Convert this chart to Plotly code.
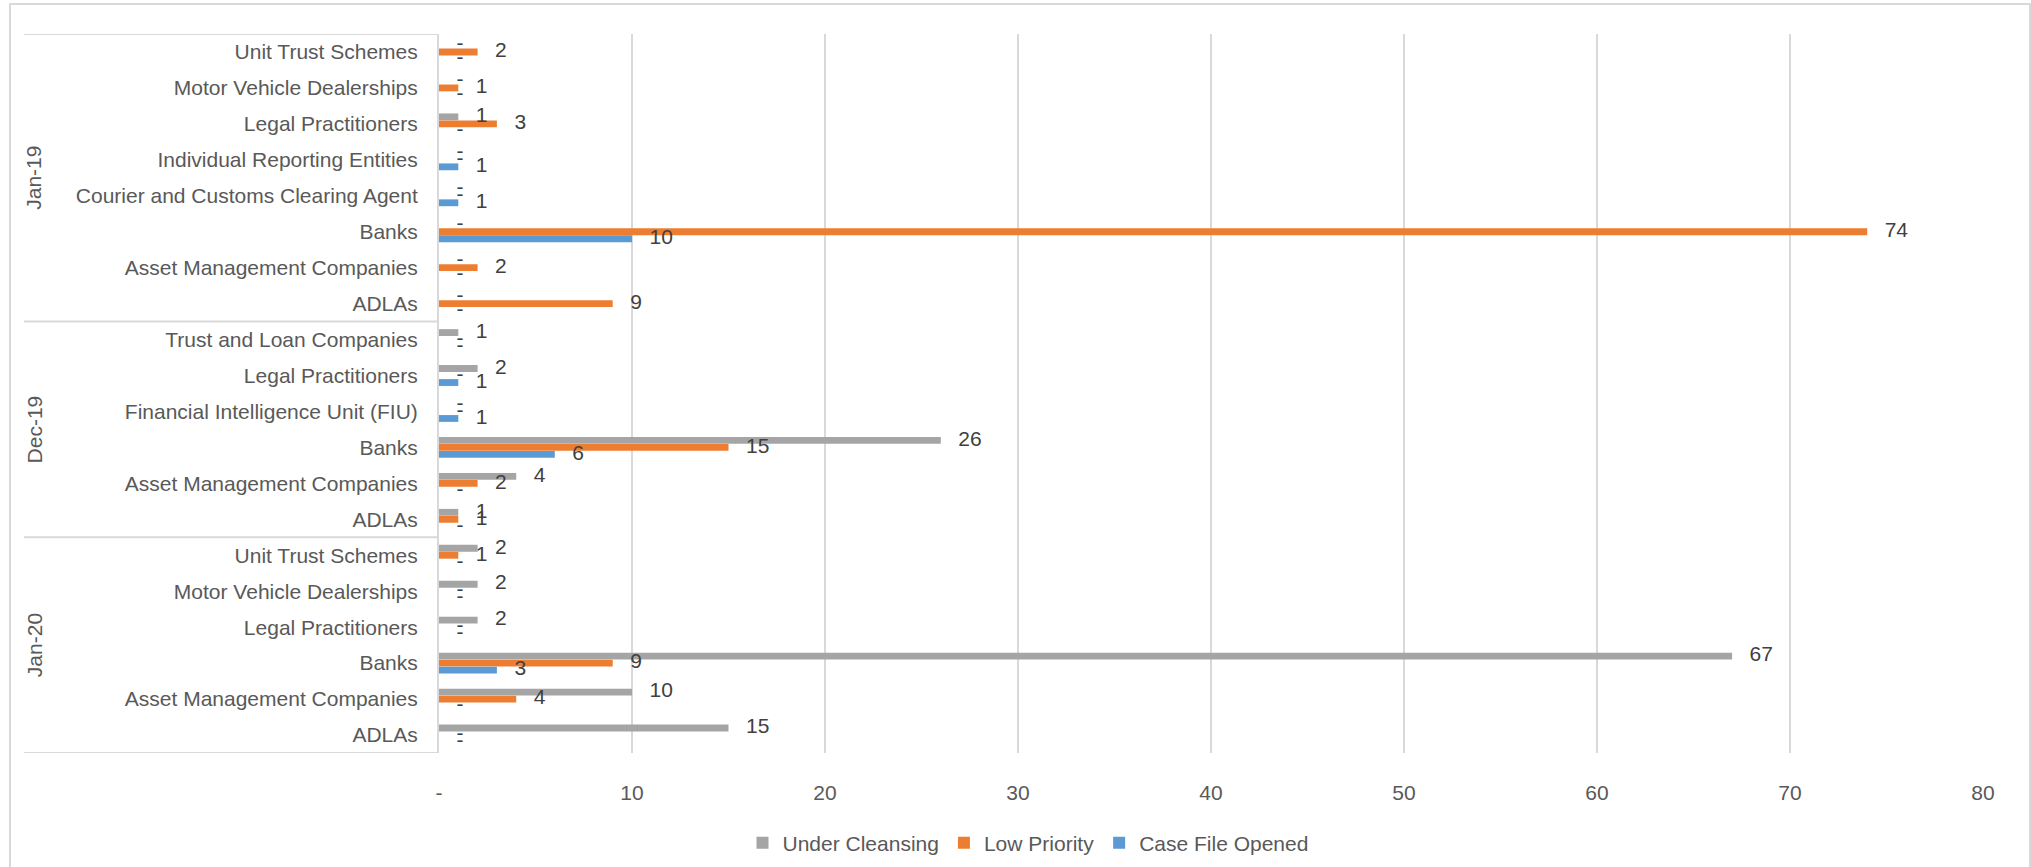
import plotly.graph_objects as go

# ---- data -------------------------------------------------------------
months = ["Jan-19"] * 8 + ["Dec-19"] * 6 + ["Jan-20"] * 6
categories = [
    "Unit Trust Schemes", "Motor Vehicle Dealerships", "Legal Practitioners",
    "Individual Reporting Entities", "Courier and Customs Clearing Agent",
    "Banks", "Asset Management Companies", "ADLAs",
    "Trust and Loan Companies", "Legal Practitioners",
    "Financial Intelligence Unit (FIU)", "Banks",
    "Asset Management Companies", "ADLAs",
    "Unit Trust Schemes", "Motor Vehicle Dealerships", "Legal Practitioners",
    "Banks", "Asset Management Companies", "ADLAs",
]
under_cleansing = [0, 0, 1, 0, 0, 0, 0, 0,
                   1, 2, 0, 26, 4, 1,
                   2, 2, 2, 67, 10, 15]
low_priority = [2, 1, 3, 0, 0, 74, 2, 9,
                0, 0, 0, 15, 2, 1,
                1, 0, 0, 9, 4, 0]
case_file_opened = [0, 0, 0, 1, 1, 10, 0, 0,
                    0, 1, 1, 6, 0, 0,
                    0, 0, 0, 3, 0, 0]

series_names = ["Under Cleansing", "Low Priority", "Case File Opened"]
series_values = [under_cleansing, low_priority, case_file_opened]
series_colors = ["#A5A5A5", "#ED7D31", "#5B9BD5"]

x_tick_values = [0, 10, 20, 30, 40, 50, 60, 70, 80]
x_tick_labels = ["-", "10", "20", "30", "40", "50", "60", "70", "80"]

# ---- layout constants (pixels) ------------------------------------------
W, H = 2031, 867
PLOT_L, PLOT_R, PLOT_T, PLOT_B = 439, 1983, 34, 753
PW, PH = PLOT_R - PLOT_L, PLOT_B - PLOT_T


def px_x(px):
    return (px - PLOT_L) / PW


def px_y(py):
    return (PLOT_B - py) / PH


FONT = "Liberation Sans, Arial, sans-serif"
AXIS_GREY = "#595959"
LABEL_GREY = "#404040"
LINE_GREY = "#D9D9D9"

rows = list(range(len(categories)))
slot = 0.195          # vertical step between the three bars of a row
bar_w = 0.19

fig = go.Figure()

for k, (name, vals, col) in enumerate(zip(series_names, series_values, series_colors)):
    ypos = [r + (k - 1) * slot for r in rows]
    fig.add_trace(go.Bar(
        name=name, x=vals, y=ypos, orientation="h", width=bar_w,
        marker=dict(color=col, line=dict(width=0)),
        hoverinfo="skip",
    ))

# value labels ("-" for zero, accounting style)
for k, (name, vals) in enumerate(zip(series_names, series_values)):
    ypos = [r + (k - 1) * slot for r in rows]
    txt = ["\u00a0\u00a0\u00a0" + ("-" if v == 0 else str(v)) for v in vals]
    fig.add_trace(go.Scatter(
        x=vals, y=ypos, mode="text", text=txt,
        textposition="middle right",
        textfont=dict(family=FONT, size=21, color=LABEL_GREY),
        showlegend=False, hoverinfo="skip", cliponaxis=False,
    ))

shapes = []
# category-axis box: horizontal separators at group boundaries
group_names = []
group_bounds = []
start = 0
for i in range(1, len(months) + 1):
    if i == len(months) or months[i] != months[start]:
        group_names.append(months[start])
        group_bounds.append((start, i - 1))
        start = i

box_left = px_x(24)
edges = [-0.5] + [b[1] + 0.5 for b in group_bounds]
for e in edges:
    shapes.append(dict(type="line", xref="paper", yref="y",
                       x0=box_left, x1=0, y0=e, y1=e,
                       line=dict(color=LINE_GREY, width=2)))

# outer chart border
shapes.append(dict(type="rect", xref="paper", yref="paper",
                   x0=px_x(10), x1=px_x(2030), y0=px_y(900), y1=px_y(4),
                   line=dict(color=LINE_GREY, width=2), layer="below"))

annotations = []
for gname, (a, b) in zip(group_names, group_bounds):
    annotations.append(dict(
        text=gname, xref="paper", yref="y", x=px_x(34), y=(a + b) / 2,
        textangle=-90, showarrow=False, xanchor="center", yanchor="middle",
        font=dict(family=FONT, size=21, color=AXIS_GREY),
    ))

fig.update_layout(
    width=W, height=H,
    margin=dict(l=PLOT_L, r=W - PLOT_R, t=PLOT_T, b=H - PLOT_B, pad=0,
                autoexpand=False),
    paper_bgcolor="white", plot_bgcolor="white",
    barmode="overlay",
    font=dict(family=FONT, size=21, color=AXIS_GREY),
    showlegend=True,
    legend=dict(orientation="h", x=px_x(1028), y=px_y(843),
                xanchor="center", yanchor="middle",
                font=dict(family=FONT, size=21, color=AXIS_GREY),
                itemwidth=30, bgcolor="rgba(0,0,0,0)"),
    shapes=shapes,
    annotations=annotations,
)

fig.update_xaxes(
    range=[0, 80], tickvals=x_tick_values, ticktext=x_tick_labels,
    showgrid=True, gridcolor=LINE_GREY, gridwidth=2,
    zeroline=False, showline=False, ticks="",
    tickfont=dict(family=FONT, size=21, color=AXIS_GREY),
    ticklabelstandoff=25, fixedrange=True,
)
fig.update_yaxes(
    range=[len(categories) - 0.5, -0.5],
    tickvals=rows, ticktext=categories,
    showgrid=False, zeroline=False,
    showline=True, linecolor=LINE_GREY, linewidth=2,
    ticks="", ticklabelstandoff=15,
    tickfont=dict(family=FONT, size=21, color=AXIS_GREY),
    fixedrange=True,
)

fig.write_html("out.html")
